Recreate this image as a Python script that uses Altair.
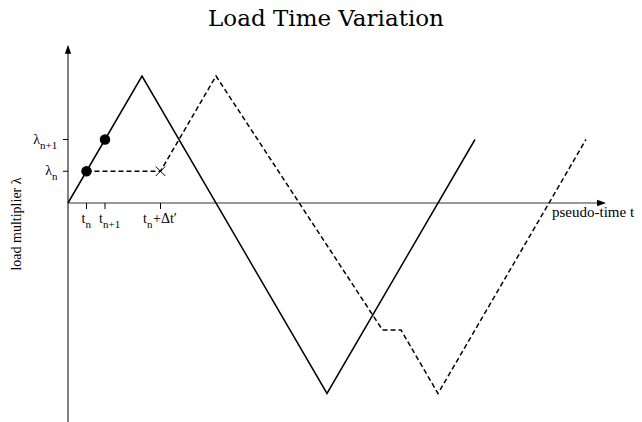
import altair as alt
import pandas as pd

# Load paths: pseudo-time t against load multiplier λ
solid_t = [0, 1, 3.5, 5.5]
solid_lam = [0, 1, -1.5, 0.5]
dashed_t = [0.25, 1.25, 2, 4.25, 4.5, 5, 7]
dashed_lam = [0.25, 0.25, 1, -1, -1, -1.5, 0.5]

# Converged states (dots) and the trial state (cross)
dot_t = [0.25, 0.5]
dot_lam = [0.25, 0.5]
trial_t = [1.25]
trial_lam = [0.25]

# Tick positions and label pieces
t_ticks = [0.25, 0.5, 1.25]
t_tick_sub = ["n", "n+1", "n"]
t_tick_tail = ["", "", "+Δt′"]
lam_ticks = [0.25, 0.5]
lam_tick_sub = ["n", "n+1"]

# Scale set-up: pixels per unit and where the origin sits in the plot area
W, H, TOP = 642, 382, 40
PX_T, PX_L = 74.0, 127.0
ORIGIN_X, ORIGIN_Y = 68.0, 203.0 - TOP
x_dom = [-ORIGIN_X / PX_T, (W - ORIGIN_X) / PX_T]
y_dom = [-(H - ORIGIN_Y) / PX_L, ORIGIN_Y / PX_L]
T_ARROW = 7.21
LAM_ARROW = 1.21

xs = alt.Scale(domain=x_dom, nice=False, zero=False)
ys = alt.Scale(domain=y_dom, nice=False, zero=False)
X = lambda f="t": alt.X(f"{f}:Q", scale=xs, axis=None)
Y = lambda f="lam": alt.Y(f"{f}:Q", scale=ys, axis=None)

SERIF = "Liberation Serif"


def frame(t, lam):
    return pd.DataFrame({"t": t, "lam": lam})


layers = []

# Coordinate axes with arrow heads
layers.append(
    alt.Chart(pd.DataFrame({"t": [0], "lam": [y_dom[0]], "lam2": [LAM_ARROW]}))
    .mark_rule(color="black", strokeWidth=1)
    .encode(x=X(), y=Y(), y2="lam2:Q")
)
layers.append(
    alt.Chart(pd.DataFrame({"t": [0], "t2": [T_ARROW], "lam": [0]}))
    .mark_rule(color="#333333", strokeWidth=1)
    .encode(x=X(), x2="t2:Q", y=Y())
)
layers.append(
    alt.Chart(frame([0], [LAM_ARROW]))
    .mark_point(shape="M0,-1L0.7,1L-0.7,1Z", filled=True, size=81, color="black", opacity=1, strokeWidth=0)
    .encode(x=X(), y=Y())
)
layers.append(
    alt.Chart(frame([T_ARROW], [0]))
    .mark_point(shape="M1,0L-1,0.7L-1,-0.7Z", filled=True, size=81, color="black", opacity=1, strokeWidth=0)
    .encode(x=X(), y=Y())
)

# Tick marks
layers.append(
    alt.Chart(frame(t_ticks, [0] * len(t_ticks)))
    .mark_tick(orient="vertical", size=6, thickness=1, color="black", yOffset=3, opacity=1)
    .encode(x=X(), y=Y())
)
layers.append(
    alt.Chart(frame([0] * len(lam_ticks), lam_ticks))
    .mark_tick(orient="horizontal", size=5, thickness=1, color="black", xOffset=-2.5, opacity=1)
    .encode(x=X(), y=Y())
)

# Load paths
layers.append(
    alt.Chart(frame(solid_t, solid_lam))
    .mark_line(color="black", strokeWidth=1.5)
    .encode(x=X(), y=Y())
)
layers.append(
    alt.Chart(frame(dashed_t, dashed_lam))
    .mark_line(color="black", strokeWidth=1.5, strokeDash=[5, 3])
    .encode(x=X(), y=Y())
)

# States
layers.append(
    alt.Chart(frame(dot_t, dot_lam))
    .mark_point(shape="circle", filled=True, size=110, color="black", opacity=1)
    .encode(x=X(), y=Y())
)
layers.append(
    alt.Chart(frame(trial_t, trial_lam))
    .mark_point(shape="M-1,-1L1,1M-1,1L1,-1", filled=False, size=90, color="black", strokeWidth=1, opacity=1)
    .encode(x=X(), y=Y())
)


def piece(t, lam, text, align, dx, dy, size):
    return (
        alt.Chart(frame([t], [lam]))
        .mark_text(text=text, align=align, baseline="alphabetic", dx=dx, dy=dy,
                   font=SERIF, fontSize=size, color="black")
        .encode(x=X(), y=Y())
    )


# Time tick labels: base letter, subscript, trailing text
t_shift = [-1, -2, -13.5]
t_tail_shift = [0, 0, -7.5]
for tv, sub, tail, sh, tsh in zip(t_ticks, t_tick_sub, t_tick_tail, t_shift, t_tail_shift):
    layers.append(piece(tv, 0, "t", "right", sh, 20, 14))
    layers.append(piece(tv, 0, sub, "left", sh, 25, 11))
    if tail:
        layers.append(piece(tv, 0, tail, "left", tsh, 20, 14))

# Load tick labels
lam_shift = [-16, -28]
for lv, sub, sh in zip(lam_ticks, lam_tick_sub, lam_shift):
    layers.append(piece(0, lv, "λ", "right", sh, 4, 14))
    layers.append(piece(0, lv, sub, "left", sh, 9, 11))

# Axis titles
layers.append(
    alt.Chart(frame([0], [0]))
    .mark_text(text="pseudo-time t", align="left", baseline="alphabetic", dx=484, dy=14,
               font=SERIF, fontSize=15, color="black")
    .encode(x=X(), y=Y())
)
layers.append(
    alt.Chart(frame([0], [0]))
    .mark_text(text="load multiplier λ", align="center", baseline="middle", angle=270,
               font=SERIF, fontSize=14, color="black")
    .encode(x=alt.value(17), y=alt.value(184))
)

chart = (
    alt.layer(*layers)
    .properties(
        width=W,
        height=H,
        background="white",
        autosize=alt.AutoSizeParams(type="none"),
        padding={"top": TOP, "left": 0, "right": 0, "bottom": 0},
        title=alt.TitleParams("Load Time Variation", font="DejaVu Serif", fontSize=23,
                              fontWeight="normal", color="black", anchor="middle",
                              dx=5, offset=9),
    )
    .configure_view(stroke=None, strokeWidth=0)
)

chart.save("out.html", embed_options={"renderer": "svg", "actions": False})
